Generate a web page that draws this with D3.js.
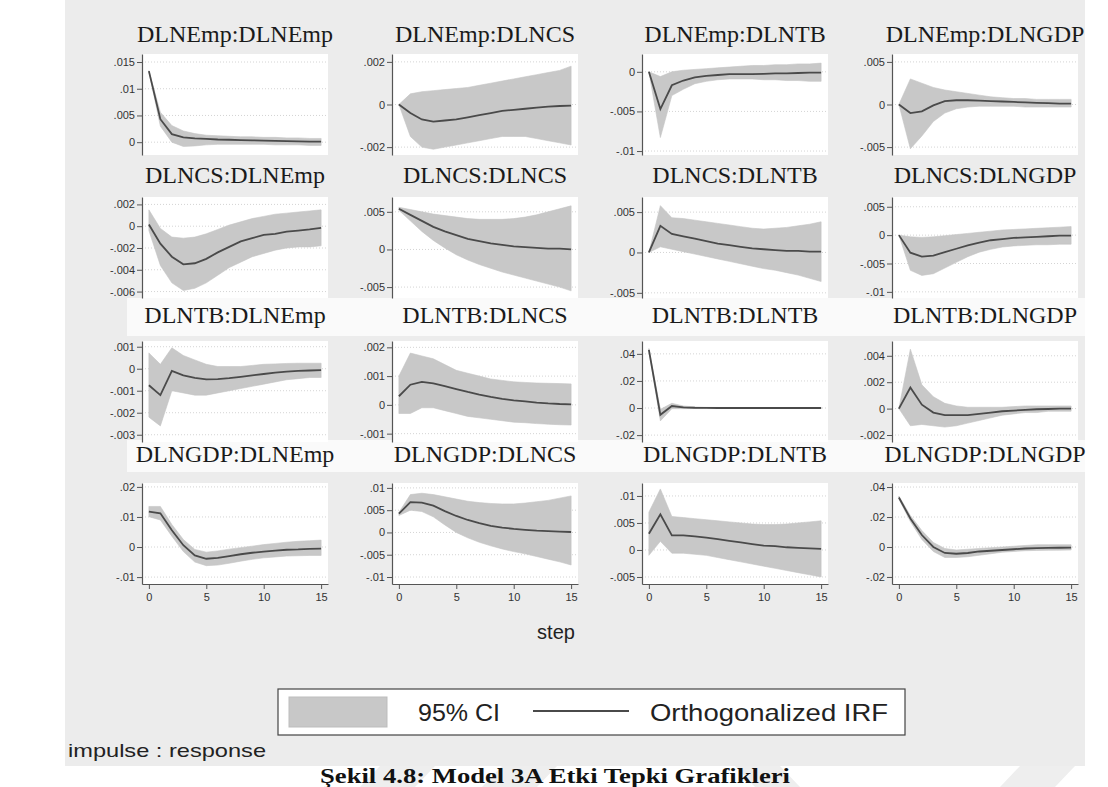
<!DOCTYPE html>
<html><head><meta charset="utf-8">
<script src="https://cdn.jsdelivr.net/npm/d3@7"></script>
<style>body{margin:0;background:#fff;overflow:hidden}</style>
</head><body>
<svg id="chart" width="1108" height="787"></svg>
<script>
// ---------------- DATA ----------------
const steps = [0,1,2,3,4,5,6,7,8,9,10,11,12,13,14,15];
const variables = ["DLNEmp","DLNCS","DLNTB","DLNGDP"];
const xTicks = [0,5,10,15];

// impulse DLNEmp
const irf_Emp_Emp = [0.0133,0.0043,0.0015,0.0009,0.0007,0.0006,0.0005,0.00045,0.0004,0.00035,0.0003,0.00025,0.0002,0.00015,0.00012,0.0001];
const hi_Emp_Emp  = [0.0134,0.0056,0.0031,0.0021,0.0016,0.0013,0.0012,0.0011,0.001,0.001,0.0009,0.0009,0.0008,0.0008,0.0007,0.0007];
const lo_Emp_Emp  = [0.0132,0.0030,0.0000,-0.0008,-0.0007,-0.0005,-0.0004,-0.0004,-0.0004,-0.0004,-0.0004,-0.0005,-0.0005,-0.0005,-0.0006,-0.0006];

const irf_Emp_CS = [0,-0.0004,-0.0007,-0.0008,-0.00075,-0.0007,-0.0006,-0.0005,-0.0004,-0.0003,-0.00025,-0.0002,-0.00015,-0.0001,-0.00007,-0.00005];
const hi_Emp_CS  = [0,0.0005,0.0006,0.00065,0.0007,0.00075,0.0008,0.0009,0.001,0.0011,0.0012,0.0013,0.0014,0.0015,0.0016,0.0018];
const lo_Emp_CS  = [0,-0.0015,-0.002,-0.0021,-0.002,-0.0019,-0.0018,-0.0017,-0.0016,-0.0015,-0.0015,-0.0015,-0.0016,-0.0017,-0.0018,-0.0019];

const irf_Emp_TB = [0,-0.0047,-0.0017,-0.0011,-0.0007,-0.0005,-0.0004,-0.0003,-0.0003,-0.0003,-0.00025,-0.0002,-0.0002,-0.00015,-0.0001,-0.0001];
const hi_Emp_TB  = [0,-0.0006,0.0,0.0002,0.0003,0.0004,0.0005,0.0006,0.0007,0.0008,0.0008,0.0009,0.0009,0.001,0.001,0.0011];
const lo_Emp_TB  = [0,-0.0083,-0.003,-0.0022,-0.0015,-0.0012,-0.001,-0.0009,-0.0009,-0.0009,-0.001,-0.001,-0.0011,-0.0011,-0.0012,-0.0012];

const irf_Emp_GDP = [0,-0.001,-0.0008,-0.0001,0.0004,0.0005,0.0005,0.00045,0.0004,0.00035,0.0003,0.00025,0.0002,0.00015,0.0001,0.0001];
const hi_Emp_GDP  = [0,0.003,0.0025,0.002,0.0017,0.0015,0.0013,0.0011,0.0009,0.0008,0.0007,0.0007,0.0006,0.0006,0.0006,0.0006];
const lo_Emp_GDP  = [0,-0.0052,-0.0037,-0.002,-0.001,-0.0005,-0.0003,-0.0002,-0.0002,-0.0002,-0.0002,-0.0003,-0.0003,-0.0003,-0.0003,-0.0003];

// impulse DLNCS
const irf_CS_Emp = [0.00015,-0.0016,-0.0028,-0.0035,-0.0034,-0.003,-0.0024,-0.0019,-0.0014,-0.0011,-0.0008,-0.0007,-0.0005,-0.0004,-0.0003,-0.00015];
const hi_CS_Emp  = [0.0015,-0.0002,-0.001,-0.0011,-0.001,-0.0007,-0.0003,0.0001,0.0004,0.0007,0.0009,0.0011,0.0012,0.0013,0.0014,0.0015];
const lo_CS_Emp  = [-0.0004,-0.0036,-0.0052,-0.0059,-0.0057,-0.0052,-0.0045,-0.0038,-0.0033,-0.0028,-0.0025,-0.0022,-0.002,-0.0019,-0.0019,-0.0018];

const irf_CS_CS = [0.0054,0.0046,0.0038,0.003,0.0024,0.0019,0.0014,0.0011,0.0008,0.0006,0.0004,0.0003,0.0002,0.0001,0.0001,0.0];
const hi_CS_CS  = [0.0056,0.0053,0.005,0.0047,0.0045,0.0043,0.0041,0.004,0.004,0.004,0.0041,0.0043,0.0046,0.005,0.0054,0.0058];
const lo_CS_CS  = [0.0052,0.0038,0.0024,0.0012,0.0002,-0.0007,-0.0014,-0.002,-0.0025,-0.003,-0.0034,-0.0038,-0.0042,-0.0046,-0.005,-0.0055];

const irf_CS_TB = [0,0.0033,0.0023,0.002,0.0017,0.0014,0.0011,0.0009,0.0007,0.0005,0.0004,0.0003,0.0002,0.0002,0.0001,0.0001];
const hi_CS_TB  = [0,0.0058,0.0043,0.0042,0.004,0.0038,0.0036,0.0034,0.0032,0.003,0.0029,0.003,0.0031,0.0033,0.0035,0.0038];
const lo_CS_TB  = [0,0.0007,0.0004,0.0001,-0.0002,-0.0005,-0.0008,-0.0011,-0.0014,-0.0017,-0.002,-0.0022,-0.0025,-0.0028,-0.0032,-0.0036];

const irf_CS_GDP = [0,-0.0031,-0.0038,-0.0036,-0.003,-0.0024,-0.0018,-0.0013,-0.0009,-0.0007,-0.0005,-0.0004,-0.0003,-0.0002,-0.0001,-0.0001];
const hi_CS_GDP  = [0,-0.0003,-0.0004,-0.0003,-0.0001,0.0001,0.0003,0.0005,0.0007,0.0009,0.001,0.0011,0.0012,0.0013,0.0014,0.0015];
const lo_CS_GDP  = [0,-0.0062,-0.0071,-0.0068,-0.0058,-0.0048,-0.0038,-0.003,-0.0025,-0.0021,-0.0019,-0.0018,-0.0017,-0.0017,-0.0016,-0.0016];

// impulse DLNTB
const irf_TB_Emp = [-0.00075,-0.0012,-0.0001,-0.0003,-0.00042,-0.00048,-0.00047,-0.00043,-0.00037,-0.0003,-0.00024,-0.00018,-0.00013,-0.0001,-0.00008,-0.00006];
const hi_TB_Emp  = [0.00072,0.0002,0.00095,0.0006,0.0004,0.0002,0.0001,0.0001,0.0001,0.00015,0.0002,0.00022,0.00024,0.00025,0.00025,0.00025];
const lo_TB_Emp  = [-0.0022,-0.0026,-0.001,-0.0011,-0.0012,-0.0012,-0.0011,-0.001,-0.0009,-0.0008,-0.0007,-0.0006,-0.0005,-0.00045,-0.0004,-0.0004];

const irf_TB_CS = [0.0003,0.0007,0.0008,0.00075,0.00065,0.00055,0.00045,0.00036,0.00028,0.00021,0.00016,0.00012,0.00008,0.00005,0.00003,0.00002];
const hi_TB_CS  = [0.001,0.0018,0.0017,0.0016,0.0014,0.0012,0.0011,0.001,0.0009,0.00085,0.0008,0.00078,0.00076,0.00075,0.00074,0.00073];
const lo_TB_CS  = [-0.0003,-0.0003,-0.0001,-0.0001,-0.0002,-0.0003,-0.0004,-0.00045,-0.0005,-0.00055,-0.0006,-0.00062,-0.00065,-0.00067,-0.00069,-0.0007];

const irf_TB_TB = [0.043,-0.005,0.0015,0.0005,0.0002,0.0001,0,0,0,0,0,0,0,0,0,0];
const hi_TB_TB  = [0.044,-0.001,0.0035,0.0015,0.0008,0.0005,0.0004,0.0004,0.0003,0.0003,0.0003,0.0003,0.0003,0.0003,0.0003,0.0003];
const lo_TB_TB  = [0.042,-0.0095,-0.0005,-0.0005,-0.0004,-0.0004,-0.0004,-0.0003,-0.0003,-0.0003,-0.0003,-0.0003,-0.0003,-0.0003,-0.0003,-0.0003];

const irf_TB_GDP = [0,0.0016,0.0003,-0.0003,-0.0005,-0.0005,-0.0005,-0.0004,-0.0003,-0.0002,-0.00015,-0.0001,-0.00005,-0.00003,0,0];
const hi_TB_GDP  = [0,0.0045,0.0018,0.0009,0.0004,0.0002,0.0001,0.0001,0.0001,0.0001,0.00015,0.0002,0.0002,0.0002,0.0002,0.0002];
const lo_TB_GDP  = [0,-0.0013,-0.0012,-0.0013,-0.0014,-0.0013,-0.0011,-0.0009,-0.0007,-0.0005,-0.0004,-0.0003,-0.0003,-0.0002,-0.0002,-0.0002];

// impulse DLNGDP
const irf_GDP_Emp = [0.0118,0.0112,0.0056,0.0006,-0.0028,-0.0039,-0.0036,-0.003,-0.0024,-0.0019,-0.0015,-0.0012,-0.0009,-0.0008,-0.0006,-0.0005];
const hi_GDP_Emp  = [0.0135,0.0135,0.0075,0.0025,-0.0008,-0.0017,-0.0013,-0.0007,-0.0002,0.0003,0.0008,0.0012,0.0016,0.0019,0.0021,0.0023];
const lo_GDP_Emp  = [0.0101,0.009,0.0036,-0.0015,-0.005,-0.0062,-0.006,-0.0054,-0.0047,-0.0041,-0.0036,-0.0033,-0.003,-0.0029,-0.0028,-0.0028];

const irf_GDP_CS = [0.0042,0.0068,0.0067,0.006,0.0048,0.0037,0.0028,0.0021,0.0015,0.0011,0.0008,0.0006,0.0004,0.0003,0.0002,0.0001];
const hi_GDP_CS  = [0.0045,0.0085,0.0088,0.0085,0.008,0.0075,0.007,0.0067,0.0065,0.0064,0.0064,0.0066,0.0069,0.0072,0.0077,0.0082];
const lo_GDP_CS  = [0.0038,0.005,0.0047,0.0035,0.0017,0.0,-0.0012,-0.0022,-0.003,-0.0037,-0.0043,-0.0048,-0.0054,-0.006,-0.0066,-0.0073];

const irf_GDP_TB = [0.003,0.0066,0.0027,0.0027,0.0025,0.0023,0.002,0.0017,0.0014,0.0011,0.0008,0.0007,0.0005,0.0004,0.0003,0.0002];
const hi_GDP_TB  = [0.007,0.0113,0.0062,0.006,0.0058,0.0056,0.0054,0.0052,0.005,0.0048,0.0047,0.0047,0.0048,0.005,0.0052,0.0054];
const lo_GDP_TB  = [-0.001,0.0016,-0.0006,-0.0006,-0.0008,-0.001,-0.0014,-0.0018,-0.0022,-0.0026,-0.003,-0.0034,-0.0038,-0.0042,-0.0046,-0.005];

const irf_GDP_GDP = [0.033,0.019,0.008,0.0,-0.004,-0.0045,-0.004,-0.003,-0.0025,-0.002,-0.0015,-0.001,-0.0008,-0.0006,-0.0005,-0.0004];
const hi_GDP_GDP  = [0.034,0.021,0.011,0.003,-0.001,-0.002,-0.0015,-0.001,-0.0005,0.0,0.0005,0.001,0.0015,0.0015,0.0015,0.0015];
const lo_GDP_GDP  = [0.032,0.017,0.005,-0.003,-0.007,-0.007,-0.0065,-0.0055,-0.0045,-0.0035,-0.003,-0.0025,-0.0023,-0.0022,-0.0021,-0.002];

// y tick values (row = impulse, col = response)
const yTicks = [
  [[0,0.005,0.01,0.015],[-0.002,0,0.002],[-0.01,-0.005,0],[-0.005,0,0.005]],
  [[-0.006,-0.004,-0.002,0,0.002],[-0.005,0,0.005],[-0.005,0,0.005],[-0.01,-0.005,0,0.005]],
  [[-0.003,-0.002,-0.001,0,0.001],[-0.001,0,0.001,0.002],[-0.02,0,0.02,0.04],[-0.002,0,0.002,0.004]],
  [[-0.01,0,0.01,0.02],[-0.01,-0.005,0,0.005,0.01],[-0.005,0,0.005,0.01],[-0.02,0,0.02,0.04]]
];
// y axis ranges [min,max]
const yRanges = [
  [[-0.0024,0.0165],[-0.00237,0.00237],[-0.0105,0.00225],[-0.00593,0.00593]],
  [[-0.00659,0.00268],[-0.00645,0.00697],[-0.00564,0.00687],[-0.01108,0.00672]],
  [[-0.00333,0.00126],[-0.00129,0.00222],[-0.0251,0.0495],[-0.00253,0.00512]],
  [[-0.0123,0.0213],[-0.01157,0.0111],[-0.0063,0.0124],[-0.0247,0.0427]]
];

const irfTable = [
  [irf_Emp_Emp,irf_Emp_CS,irf_Emp_TB,irf_Emp_GDP],
  [irf_CS_Emp,irf_CS_CS,irf_CS_TB,irf_CS_GDP],
  [irf_TB_Emp,irf_TB_CS,irf_TB_TB,irf_TB_GDP],
  [irf_GDP_Emp,irf_GDP_CS,irf_GDP_TB,irf_GDP_GDP]];
const hiTable = [
  [hi_Emp_Emp,hi_Emp_CS,hi_Emp_TB,hi_Emp_GDP],
  [hi_CS_Emp,hi_CS_CS,hi_CS_TB,hi_CS_GDP],
  [hi_TB_Emp,hi_TB_CS,hi_TB_TB,hi_TB_GDP],
  [hi_GDP_Emp,hi_GDP_CS,hi_GDP_TB,hi_GDP_GDP]];
const loTable = [
  [lo_Emp_Emp,lo_Emp_CS,lo_Emp_TB,lo_Emp_GDP],
  [lo_CS_Emp,lo_CS_CS,lo_CS_TB,lo_CS_GDP],
  [lo_TB_Emp,lo_TB_CS,lo_TB_TB,lo_TB_GDP],
  [lo_GDP_Emp,lo_GDP_CS,lo_GDP_TB,lo_GDP_GDP]];

// ---------------- LAYOUT ----------------
const colLeft = [142, 392, 642, 892];
const rowTop = [54, 197, 341, 483];
const plotW = 186, plotH = 101;
const titleBase = [42, 183, 323, 462];

const svg = d3.select("#chart");
const SANS = "'Liberation Sans', Arial, sans-serif";
const SERIF = "'Liberation Serif', 'Times New Roman', serif";

// background
svg.append("rect").attr("x",0).attr("y",0).attr("width",1108).attr("height",787).attr("fill","#ffffff");
svg.append("rect").attr("x",65).attr("y",0).attr("width",1020).attr("height",766).attr("fill","#ececec");
// watermark shapes
const wm = svg.append("g").attr("fill","#eeeeee");
[[360,435],[482,557],[1000,1075]].forEach(([a,b])=>{
  wm.append("path").attr("d",`M${a+20},766 L${b},766 L${b-20},787 L${a},787 Z`);
});
wm.append("path").attr("d","M735,766 L780,766 L800,787 L755,787 Z");
// white title bands (rows 3 & 4)
svg.append("rect").attr("x",127).attr("y",298).attr("width",958).attr("height",38).attr("fill","#fafafa");
svg.append("rect").attr("x",127).attr("y",440).attr("width",958).attr("height",32).attr("fill","#fafafa");

const fmt = v => {
  if (v === 0) return "0";
  return String(parseFloat(v.toPrecision(6))).replace("0.", ".");
};

for (let r = 0; r < 4; r++) {
  for (let c = 0; c < 4; c++) {
    const x0 = colLeft[c], y0 = rowTop[r];
    const g = svg.append("g");
    const x = d3.scaleLinear().domain([-0.6, 15.6]).range([x0, x0 + plotW]);
    const y = d3.scaleLinear().domain(yRanges[r][c]).range([y0 + plotH, y0]);

    g.append("rect").attr("x",x0).attr("y",y0).attr("width",plotW).attr("height",plotH).attr("fill","#ffffff");

    // gridlines
    g.selectAll("line.grid").data(yTicks[r][c]).enter().append("line")
      .attr("x1",x0).attr("x2",x0+plotW)
      .attr("y1",d=>y(d)).attr("y2",d=>y(d))
      .attr("stroke","#d4d4d4").attr("stroke-width",1).attr("stroke-dasharray","1,2");

    const data = steps.map((s,i)=>({s, irf: irfTable[r][c][i], lo: loTable[r][c][i], hi: hiTable[r][c][i]}));
    g.append("path").datum(data)
      .attr("d", d3.area().x(d=>x(d.s)).y0(d=>y(d.lo)).y1(d=>y(d.hi)))
      .attr("fill","#c8c8c8").attr("stroke","#c4c4c4").attr("stroke-width",0.6);
    g.append("path").datum(data)
      .attr("d", d3.line().x(d=>x(d.s)).y(d=>y(d.irf)))
      .attr("fill","none").attr("stroke","#4a4a4a").attr("stroke-width",1.8);

    // y axis
    const ya = g.append("g").attr("transform",`translate(${x0},0)`)
      .call(d3.axisLeft(y).tickValues(yTicks[r][c]).tickFormat(fmt).tickSize(5).tickSizeOuter(0).tickPadding(2));
    ya.select(".domain").attr("stroke","#555").attr("stroke-width",1.2);
    ya.selectAll(".tick line").attr("stroke","#555");
    ya.selectAll("text").attr("font-family",SANS).attr("font-size",11).attr("fill","#333");

    if (r === 3) {
      const xa = g.append("g").attr("transform",`translate(0,${y0+plotH})`)
        .call(d3.axisBottom(x).tickValues(xTicks).tickSize(5).tickSizeOuter(0).tickPadding(4));
      xa.select(".domain").attr("stroke","#555").attr("stroke-width",1.2);
      xa.selectAll(".tick line").attr("stroke","#555");
      xa.selectAll("text").attr("font-family",SANS).attr("font-size",11).attr("fill","#333");
    }

    // panel title
    svg.append("text").attr("x", x0 + plotW/2).attr("y", titleBase[r])
      .attr("text-anchor","middle").attr("font-family",SERIF).attr("font-size",24)
      .attr("fill","#1a1a1a").text(variables[r] + ":" + variables[c]);
  }
}

// x title
svg.append("text").attr("x",556).attr("y",639).attr("text-anchor","middle")
  .attr("font-family",SANS).attr("font-size",20).attr("fill","#222").text("step");

// legend
const lg = svg.append("g");
lg.append("rect").attr("x",278).attr("y",689).attr("width",627).attr("height",46)
  .attr("fill","#ffffff").attr("stroke","#444").attr("stroke-width",1.2);
lg.append("rect").attr("x",289).attr("y",697).attr("width",98).attr("height",30)
  .attr("fill","#c8c8c8").attr("stroke","#bdbdbd");
lg.append("text").attr("x",418).attr("y",721).attr("font-family",SANS).attr("font-size",24)
  .attr("fill","#222").attr("textLength",82).attr("lengthAdjust","spacingAndGlyphs").text("95% CI");
lg.append("line").attr("x1",533).attr("x2",629).attr("y1",711).attr("y2",711)
  .attr("stroke","#4a4a4a").attr("stroke-width",1.8);
lg.append("text").attr("x",650).attr("y",721).attr("font-family",SANS).attr("font-size",24)
  .attr("fill","#222").attr("textLength",238).attr("lengthAdjust","spacingAndGlyphs").text("Orthogonalized IRF");

svg.append("text").attr("x",68).attr("y",757).attr("font-family",SANS).attr("font-size",19)
  .attr("fill","#222").attr("textLength",198).attr("lengthAdjust","spacingAndGlyphs").text("impulse : response");

// caption
svg.append("text").attr("x",555).attr("y",783).attr("text-anchor","middle")
  .attr("font-family",SERIF).attr("font-weight","bold").attr("font-size",21)
  .attr("fill","#111").attr("textLength",470).attr("lengthAdjust","spacingAndGlyphs")
  .text("Şekil 4.8: Model 3A Etki Tepki Grafikleri");
</script>
</body></html>
